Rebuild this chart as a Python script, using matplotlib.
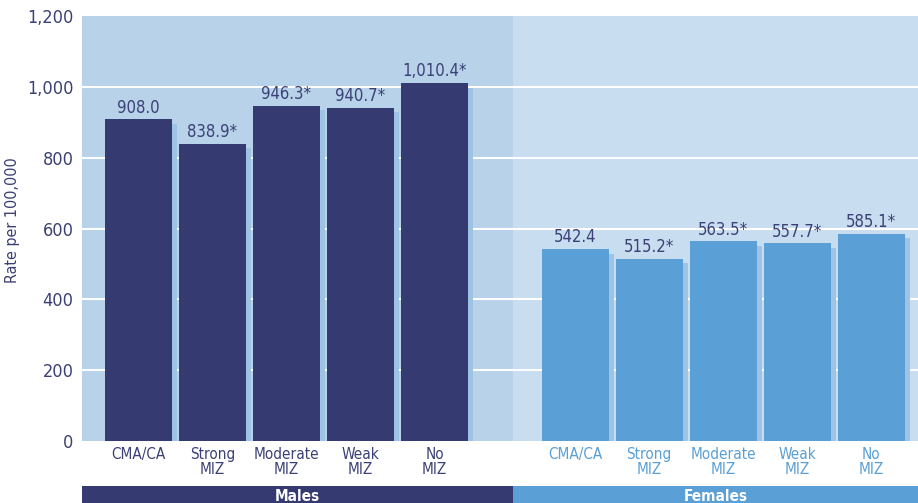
import numpy as np
import matplotlib.pyplot as plt
from matplotlib.patches import Rectangle

plt.rcParams['font.family'] = ['DejaVu Sans']
plt.rcParams['font.stretch'] = 'condensed'

categories = ['CMA/CA', 'Strong\nMIZ', 'Moderate\nMIZ', 'Weak\nMIZ', 'No\nMIZ']
males = [908.0, 838.9, 946.3, 940.7, 1010.4]
females = [542.4, 515.2, 563.5, 557.7, 585.1]
male_flags = ['', '*', '*', '*', '*']
female_flags = ['', '*', '*', '*', '*']
groups = ['Males', 'Females']
yticks = [0, 200, 400, 600, 800, 1000, 1200]

navy = '#353a70'
light = '#5a9fd5'
shadow = '#9ec3e5'
panel_m = '#b8d2ea'
panel_f = '#c9ddf0'
text_navy = '#3b4076'

W, H = 918, 503
fig = plt.figure(figsize=(W / 100, H / 100), dpi=100)
ax = fig.add_axes([82 / W, (H - 441) / H, (918 - 82) / W, (441 - 16) / H])

xm = np.arange(len(categories))
xf = xm + 5.9
split = 5.06
xmin, xmax = -0.76, 10.53
bw = 0.905

ax.set_xlim(xmin, xmax)
ax.set_ylim(0, 1200)
ax.axvspan(xmin, split, color=panel_m, zorder=0, lw=0)
ax.axvspan(split, xmax, color=panel_f, zorder=0, lw=0)
for y in yticks[1:-1]:
    ax.axhline(y, color='white', lw=1.5, zorder=1)

# shadow strip on the right side of each bar
for xs, vals in [(xm, males), (xf, females)]:
    for x, v in zip(xs, vals):
        ax.add_patch(Rectangle((x + bw / 2, 0), 0.07, v - 13, color=shadow, lw=0, zorder=2))

ax.bar(xm, males, width=bw, color=navy, zorder=3)
ax.bar(xf, females, width=bw, color=light, zorder=3)

for xs, vals, flags in [(xm, males, male_flags), (xf, females, female_flags)]:
    for x, v, f in zip(xs, vals, flags):
        ax.text(x, v + 8, f'{v:,.1f}{f}', ha='center', va='bottom',
                fontsize=12, color=text_navy, zorder=4)

ax.set_yticks(yticks)
ax.set_yticklabels([f'{t:,}' for t in yticks], fontsize=13, color=text_navy)
ax.set_xticks(list(xm) + list(xf))
ax.set_xticklabels(categories + categories, fontsize=11, linespacing=1.05)
for i, lab in enumerate(ax.get_xticklabels()):
    lab.set_color(text_navy if i < len(categories) else light)
ax.tick_params(length=0, pad=4)
ax.tick_params(axis='y', pad=6)
for s in ax.spines.values():
    s.set_visible(False)
ax.set_ylabel('Rate per 100,000', fontsize=11.5, color=text_navy)
ax.yaxis.set_label_coords(-0.074, 0.52)

# group strip at the bottom
sx = fig.add_axes([82 / W, 0, (918 - 82) / W, 17 / H])
sx.set_xlim(xmin, xmax)
sx.set_ylim(0, 1)
sx.axvspan(xmin, split, color=navy, lw=0)
sx.axvspan(split, xmax, color=light, lw=0)
sx.text((xmin + split) / 2, 0.4, groups[0], ha='center', va='center',
        color='white', fontsize=11, fontweight='bold')
sx.text((split + xmax) / 2, 0.4, groups[1], ha='center', va='center',
        color='white', fontsize=11, fontweight='bold')
sx.axis('off')

fig.savefig('out.png', dpi=100)
